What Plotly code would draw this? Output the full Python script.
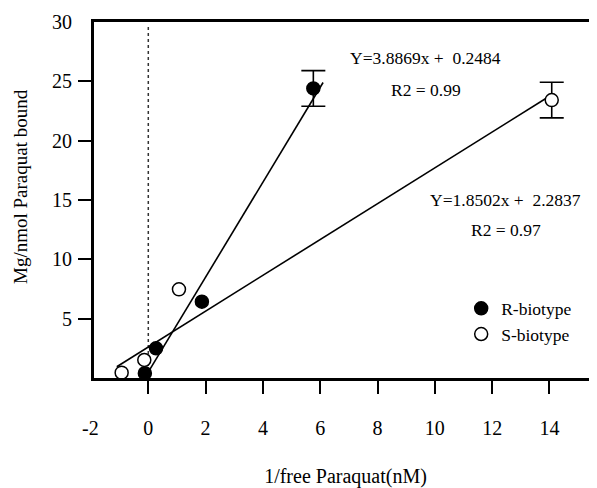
import plotly.graph_objects as go

# R-biotype (filled)
r_x = [-0.12, 0.27, 1.87, 5.76]
r_y = [0.40, 2.50, 6.43, 24.4]
r_err = [None, None, None, 1.5]
# S-biotype (open)
s_x = [-0.93, -0.14, 1.07, 14.08]
s_y = [0.45, 1.52, 7.47, 23.42]
s_err = [None, None, None, 1.5]
# fitted lines as drawn
r_line_x = [-0.05, 6.1]
r_line_y = [0.3, 24.9]
s_line_x = [-1.10, 13.9]
s_line_y = [0.95, 23.6]

x_ticks = [0, 2, 4, 6, 8, 10, 12, 14]
y_ticks = [5, 10, 15, 20, 25, 30]
y_minor = [5, 10, 15, 20, 25]
X_RANGE = [-1.895, 15.66]

FONT = "Liberation Serif"

fig = go.Figure()
fig.add_trace(go.Scatter(x=[0, 0], y=[0, 29.6], mode="lines",
                         line=dict(color="#333", width=1.5, dash="dot"),
                         showlegend=False, hoverinfo="skip"))
fig.add_trace(go.Scatter(x=r_line_x, y=r_line_y, mode="lines",
                         line=dict(color="black", width=1.6), showlegend=False))
fig.add_trace(go.Scatter(x=s_line_x, y=s_line_y, mode="lines",
                         line=dict(color="black", width=1.6), showlegend=False))

# error bars only where a value exists
for xs, ys, es in [(r_x, r_y, r_err), (s_x, s_y, s_err)]:
    ex = [x for x, e in zip(xs, es) if e is not None]
    ey = [y for y, e in zip(ys, es) if e is not None]
    ee = [e for e in es if e is not None]
    fig.add_trace(go.Scatter(x=ex, y=ey, mode="markers", marker=dict(size=1, opacity=0),
                             error_y=dict(type="data", array=ee, visible=True,
                                          color="black", thickness=1.6, width=12),
                             showlegend=False, hoverinfo="skip"))

fig.add_trace(go.Scatter(x=r_x, y=r_y, mode="markers", name="R-biotype",
                         marker=dict(size=13, color="black", line=dict(color="black", width=1.5)),
                         legendgroup="r"))
fig.add_trace(go.Scatter(x=s_x, y=s_y, mode="markers", name="S-biotype",
                         marker=dict(size=13, color="white", line=dict(color="black", width=1.5)),
                         legendgroup="s"))

# reference-frame plot box (pixels) used to place annotations
L_REF, T_REF, W, H = 94, 22, 503, 356
# page body has an 8px default margin, so compensate in figure geometry
OFF = 8
annots = [
    dict(x=425, y=58, text="Y=3.8869x +  0.2484"),
    dict(x=426, y=90, text="R2 = 0.99"),
    dict(x=505, y=200, text="Y=1.8502x +  2.2837"),
    dict(x=506, y=230, text="R2 = 0.97"),
]
ann_list = []
for a in annots:
    ann_list.append(dict(xref="paper", yref="paper",
                         x=(a["x"] - L_REF) / W, y=1 - (a["y"] - T_REF) / H,
                         xanchor="center", yanchor="middle",
                         text=a["text"], showarrow=False,
                         font=dict(family=FONT, size=17.5, color="black")))
# "-2" tick label sits just outside the axis range
ann_list.append(dict(xref="paper", yref="paper",
                     x=(-2 - X_RANGE[0]) / (X_RANGE[1] - X_RANGE[0]),
                     y=1 - (428 - T_REF) / H,
                     xanchor="center", yanchor="middle",
                     text="-2", showarrow=False,
                     font=dict(family=FONT, size=20, color="black")))
# y-axis title
ann_list.append(dict(xref="paper", yref="paper",
                     x=(20 - L_REF) / W, y=1 - (187 - T_REF) / H,
                     xanchor="center", yanchor="middle", textangle=-90,
                     text="Mg/nmol Paraquat bound", showarrow=False,
                     font=dict(family=FONT, size=19, color="black")))

fig.update_layout(
    width=597 - OFF, height=488 - OFF,
    margin=dict(l=L_REF - OFF, r=0, t=T_REF - OFF, b=488 - T_REF - H),
    paper_bgcolor="white", plot_bgcolor="white",
    font=dict(family=FONT, color="black"),
    annotations=ann_list,
    legend=dict(x=0.73, y=0.246, xanchor="left", yanchor="top",
                font=dict(family=FONT, size=17.5), tracegroupgap=0,
                bgcolor="rgba(0,0,0,0)"),
    xaxis=dict(range=X_RANGE, tickvals=x_ticks,
               ticktext=[str(v) for v in x_ticks], automargin=False,
               ticks="outside", ticklen=13, tickwidth=2, tickcolor="black",
               showline=True, linewidth=3, linecolor="black", mirror=True,
               showgrid=False, zeroline=False, ticklabelstandoff=17,
               tickfont=dict(family=FONT, size=20),
               title=dict(text="1/free Paraquat(nM)", standoff=33,
                          font=dict(family=FONT, size=20))),
    yaxis=dict(range=[0, 30], tickvals=y_ticks,
               ticktext=[str(v) for v in y_ticks], automargin=False,
               ticks="", showline=True, linewidth=3, linecolor="black",
               showgrid=False, zeroline=False, ticklabelstandoff=15,
               minor=dict(tickvals=y_minor, ticks="outside", ticklen=13,
                          tickwidth=2, tickcolor="black", showgrid=False),
               tickfont=dict(family=FONT, size=20)),
)

fig.write_html("out.html")
